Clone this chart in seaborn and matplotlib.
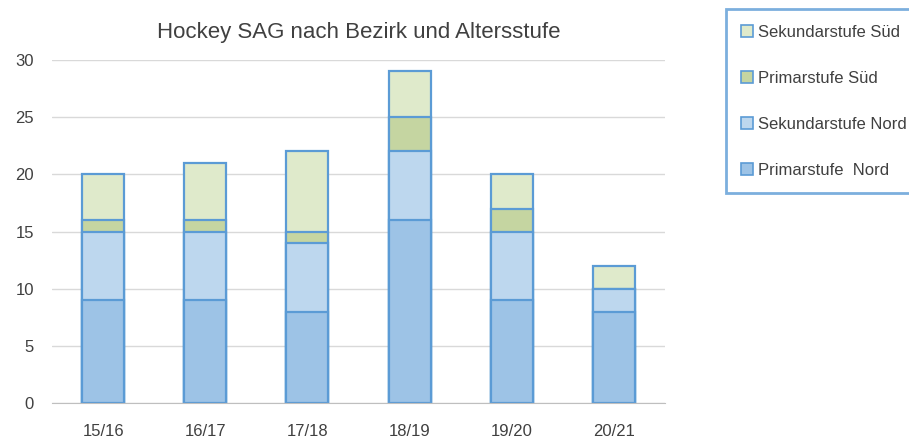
import matplotlib
matplotlib.use('Agg')
import matplotlib.pyplot as plt
import seaborn as sns
import pandas as pd
import numpy as np
from matplotlib.patches import Patch

seasons = ['15/16', '16/17', '17/18', '18/19', '19/20', '20/21']
primar_nord = [9, 9, 8, 16, 9, 8]
sekundar_nord = [6, 6, 6, 6, 6, 2]
primar_sued = [1, 1, 1, 3, 2, 0]
sekundar_sued = [4, 5, 7, 4, 3, 2]

series = ['Primarstufe  Nord', 'Sekundarstufe Nord', 'Primarstufe Süd', 'Sekundarstufe Süd']
colors = ['#9dc3e6', '#bdd7ee', '#c5d5a1', '#dfeacb']
edge = '#5b9bd5'

sns.set_style('white')
plt.rcParams['font.family'] = ['Liberation Sans', 'DejaVu Sans']

df = pd.DataFrame({
    'season': seasons,
    series[0]: primar_nord,
    series[1]: sekundar_nord,
    series[2]: primar_sued,
    series[3]: sekundar_sued,
})
cum = df[series].cumsum(axis=1)
cum['season'] = df['season']

fig = plt.figure(figsize=(9.09, 4.38), dpi=100)
ax = fig.add_axes([0.0572, 0.0799, 0.6744, 0.7831])

# stacked bars: draw cumulative totals, tallest first
for name, col in reversed(list(zip(series, colors))):
    sns.barplot(data=cum, x='season', y=name, color=col, width=0.41,
                edgecolor=edge, linewidth=1.6, saturation=1, ax=ax)

ax.set_ylim(0, 30)
ax.set_yticks(range(0, 31, 5))
ax.set_xlim(-0.5, 5.5)
ax.yaxis.grid(True, color='#d9d9d9', linewidth=1)
ax.set_axisbelow(True)
for s in ['top', 'right', 'left']:
    ax.spines[s].set_visible(False)
ax.spines['bottom'].set_color('#bfbfbf')
ax.tick_params(axis='both', length=0, labelsize=12, colors='#404040')
ax.tick_params(axis='y', pad=13)
ax.tick_params(axis='x', pad=15)
ax.set_xlabel('')
ax.set_ylabel('')
ax.set_title('Hockey SAG nach Bezirk und Altersstufe', fontsize=16, color='#404040', pad=16)

handles = [Patch(facecolor=c, edgecolor=edge, linewidth=1.2, label=n)
           for n, c in zip(series, colors)][::-1]
leg = fig.legend(handles=handles, loc='upper left', bbox_to_anchor=(0.789, 0.998),
                 frameon=True, fancybox=False, fontsize=12, labelspacing=1.85,
                 handlelength=0.7, handleheight=0.7, handletextpad=0.3,
                 borderpad=0.95, labelcolor='#404040')
leg.get_frame().set_edgecolor(edge)
leg.get_frame().set_linewidth(2)

fig.savefig('out.png', dpi=100)
